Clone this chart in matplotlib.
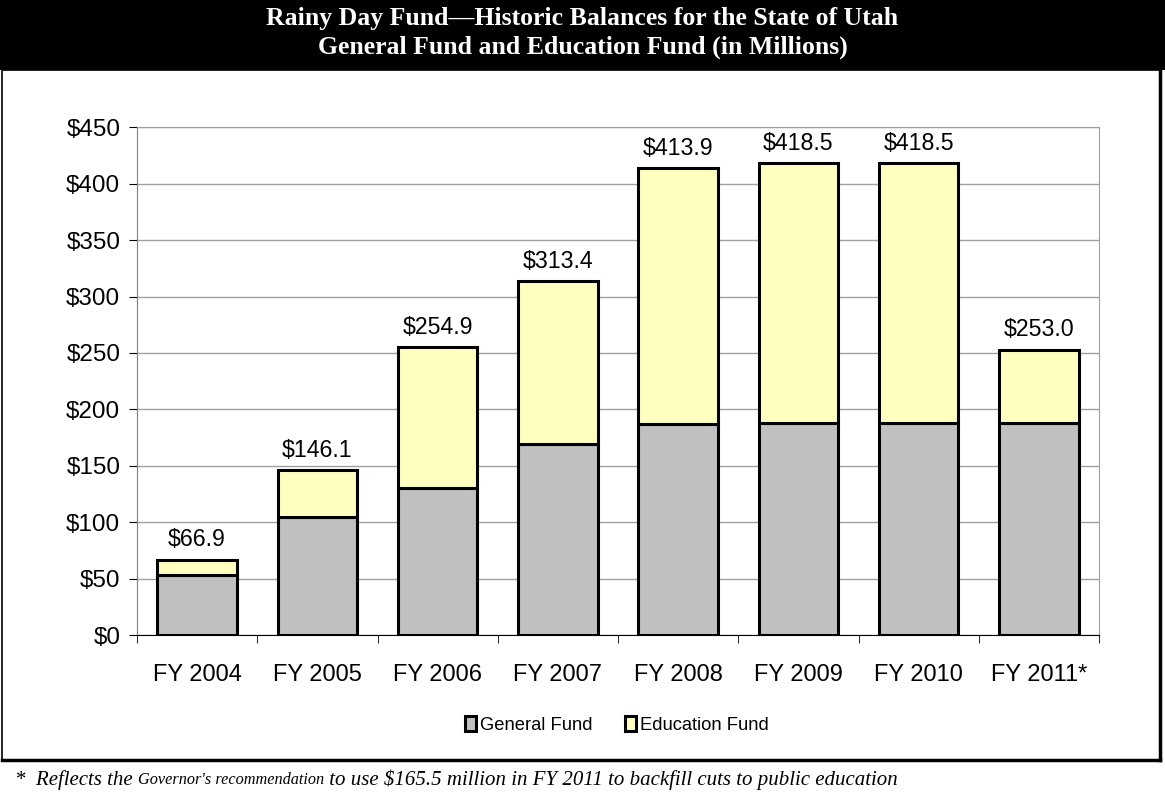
import matplotlib.pyplot as plt
from matplotlib.patches import Rectangle
import numpy as np

# datos
years = ['FY 2004', 'FY 2005', 'FY 2006', 'FY 2007', 'FY 2008', 'FY 2009', 'FY 2010', 'FY 2011*']
totals = [66.9, 146.1, 254.9, 313.4, 413.9, 418.5, 418.5, 253.0]
general = [53.5, 104.7, 130.7, 169.6, 186.8, 187.7, 187.7, 187.7]
education = [t - g for t, g in zip(totals, general)]
labels = ['$66.9', '$146.1', '$254.9', '$313.4', '$413.9', '$418.5', '$418.5', '$253.0']

W, H = 1165, 798
fig = plt.figure(figsize=(W / 100, H / 100), dpi=100)
fig.patch.set_facecolor('white')

# banda negra del titulo y recuadro
fig.patches.append(Rectangle((0, 1 - 70 / H), 1, 70 / H, transform=fig.transFigure,
                             facecolor='black', edgecolor='none', zorder=0))
fig.patches.append(Rectangle((2 / W, 1 - 760 / H), 1158 / W, 690 / H, transform=fig.transFigure,
                             facecolor='none', edgecolor='black', linewidth=1.2, zorder=1))
fig.add_artist(plt.Line2D([1160 / W, 1160 / W], [1 - 760 / H, 1 - 70 / H], transform=fig.transFigure,
                          color='black', linewidth=2.5))
fig.add_artist(plt.Line2D([2 / W, 1160 / W], [1 - 760 / H, 1 - 760 / H], transform=fig.transFigure,
                          color='black', linewidth=2.5))

fig.text(0.5, 1 - 18 / H, 'Rainy Day Fund\u2014Historic Balances for the State of Utah',
         ha='center', va='center', color='white', fontsize=18.5, fontweight='bold',
         family='Liberation Serif')
fig.text(0.5, 1 - 47 / H, 'General Fund and Education Fund (in Millions)',
         ha='center', va='center', color='white', fontsize=18.5, fontweight='bold',
         family='Liberation Serif')

ax = fig.add_axes([137 / W, 1 - 635 / H, (1099 - 137) / W, (635 - 127.3) / H])
x = np.arange(len(years))
b1 = ax.bar(x, general, width=0.66, color='#C0C0C0', edgecolor='black', linewidth=2.2,
            label='General Fund', zorder=3)
b2 = ax.bar(x, education, bottom=general, width=0.66, color='#FFFFC0', edgecolor='black',
            linewidth=2.2, label='Education Fund', zorder=3)

for xi, t, lab in zip(x, totals, labels):
    ax.annotate(lab, (xi, t), xytext=(0, 6), textcoords='offset points', ha='center',
                va='bottom', fontsize=16.7, family='Liberation Sans')

ax.set_xlim(-0.5, len(years) - 0.5)
ax.set_ylim(0, 450)
ax.set_yticks(np.arange(0, 451, 50))
ax.set_yticklabels(['$%d' % v for v in range(0, 451, 50)], fontsize=17.5, family='Liberation Sans')
ax.set_xticks(x)
ax.set_xticklabels(years, fontsize=17, family='Liberation Sans')
ax.set_xticks(np.arange(-0.5, len(years)), minor=True)
ax.tick_params(axis='x', which='major', length=0, pad=21)
ax.tick_params(axis='x', which='minor', length=6, color='black')
ax.tick_params(axis='y', length=6, pad=6)
ax.grid(axis='y', color='#A0A0A0', linewidth=1, zorder=0)
for s in ['top', 'right']:
    ax.spines[s].set_color('#A0A0A0')
ax.spines['left'].set_color('#808080')
ax.spines['bottom'].set_color('black')

fig.legend(handles=[b1, b2], loc='center', bbox_to_anchor=(617 / W, 1 - 725 / H), ncol=2,
           frameon=False, prop={'family': 'Liberation Sans', 'size': 13.2},
           handlelength=0.6, handleheight=0.9, handletextpad=0.2, columnspacing=1.8)

# nota al pie con letra mas chica en el medio
fig.canvas.draw()
r = fig.canvas.get_renderer()
xpos = 15 / W
ypos = 1 - 780 / H
for txt, sz in [('*  Reflects the ', 15), ("Governor's recommendation", 11.7),
                (' to use $165.5 million in FY 2011 to backfill cuts to public education', 15)]:
    t = fig.text(xpos, ypos, txt, ha='left', va='center', fontsize=sz, style='italic',
                 family='Liberation Serif')
    bb = t.get_window_extent(renderer=r)
    xpos += bb.width / W

fig.savefig('out.png', dpi=100)
